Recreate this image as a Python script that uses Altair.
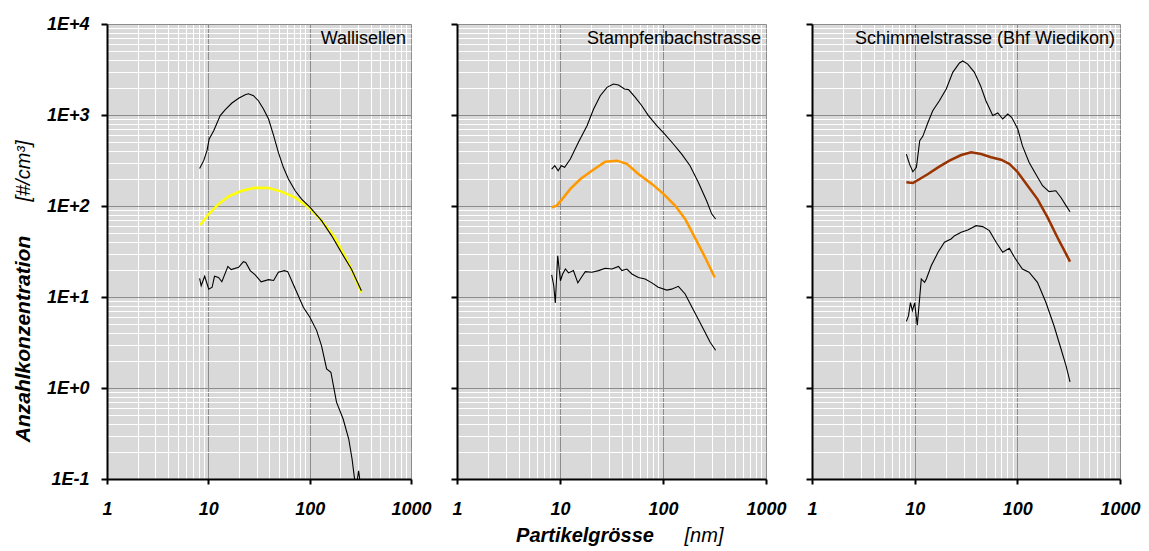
import altair as alt
import pandas as pd

FONT = "Liberation Sans"

# ---------------- data ----------------
titles = ["Wallisellen", "Stampfenbachstrasse", "Schimmelstrasse (Bhf Wiedikon)"]
mid_colors = ["#FFFF00", "#FF9900", "#993300"]

p1_up_x = [8.2, 9.0, 9.7, 10.2, 11.3, 13.1, 14.7, 17.1, 19.9, 23.1, 24.9, 27.9, 31.2, 35.0, 39.3, 44.1, 49.1, 55.0, 61.7, 71.9, 83.2, 100.5, 131, 165, 205, 258, 324]
p1_up_y = [259, 315, 405, 545, 673, 985, 1143, 1355, 1525, 1670, 1713, 1630, 1435, 1164, 904, 593, 389, 266, 198, 147, 119, 97, 69, 47, 31, 20.3, 11.7]
p1_mid_x = [8.3, 10.1, 12.6, 15.9, 21.4, 29.0, 39.3, 52.7, 71.9, 97, 131, 177, 240, 324]
p1_mid_y = [61.8, 81.7, 105, 128, 147, 159, 158, 144, 124, 97, 69, 45, 24, 11.2]
p1_lo_x = [8.2, 8.5, 9.2, 10.1, 10.9, 11.5, 12.6, 13.6, 15.6, 16.8, 19.9, 22.2, 23.4, 25.9, 29, 33.2, 39.3, 44.1, 49.1, 56.3, 60.7, 66.5, 74.6, 86.6, 100.5, 117, 131, 147, 162, 184, 214, 243, 262, 279, 290, 304, 318]
p1_lo_y = [16.0, 13.3, 16.9, 12.2, 12.8, 16.9, 16.4, 14.7, 21.7, 20, 21.2, 24.4, 24, 19.5, 17.5, 14.7, 15.5, 15.2, 18.7, 19.5, 19.0, 15.1, 11.3, 7.7, 6.0, 4.3, 2.9, 1.62, 1.49, 0.70, 0.456, 0.275, 0.166, 0.095, 0.085, 0.123, 0.085]

p2_up_x = [8.3, 8.9, 9.6, 10.3, 11.1, 12.6, 15.1, 18.3, 21.2, 24.6, 28.6, 33.0, 37.0, 42.3, 46.3, 53.8, 62.3, 72.2, 87, 104, 126, 152, 183, 220, 265, 297, 324]
p2_up_y = [255, 277, 244, 277, 266, 328, 501, 763, 1164, 1630, 2013, 2190, 2140, 1930, 1900, 1563, 1265, 985, 763, 618, 480, 372, 277, 182, 114, 82, 72]
p2_mid_x = [8.3, 9.3, 10.5, 12.6, 15.8, 20.4, 27.5, 35.7, 44.6, 57.7, 78.0, 101, 131, 164, 204, 256, 318]
p2_mid_y = [96.6, 101, 119, 154, 198, 244, 307, 315, 290, 225, 175, 136, 101, 72, 45, 27.3, 16.4]
p2_lo_x = [8.3, 8.7, 9.0, 9.5, 10.1, 10.6, 11.3, 12.1, 13.5, 14.9, 16.4, 17.6, 20.4, 23.7, 27.5, 31.9, 37.0, 39.9, 44.6, 49.9, 57.7, 67.1, 78, 90, 109, 121, 141, 164, 189, 220, 256, 286, 324]
p2_lo_y = [17.5, 13.3, 8.6, 28.4, 15.1, 17.9, 20.3, 18.4, 19.5, 14.3, 16.9, 19, 18.7, 19.5, 20.7, 20.3, 21.7, 19.5, 20.3, 17.9, 16.4, 15.8, 14.3, 12.8, 11.9, 12.2, 13.1, 10.8, 7.9, 5.7, 4.1, 3.2, 2.6]

p3_up_x = [8.3, 8.9, 9.6, 10.4, 11.2, 12.0, 13.5, 15.0, 17.4, 20.3, 23.5, 27.3, 29.4, 32.9, 38.2, 43.8, 49.4, 57.6, 64.5, 72.1, 80.7, 88, 101, 112, 130, 151, 176, 204, 237, 266, 298, 326]
p3_up_y = [372, 290, 238, 266, 522, 583, 832, 1114, 1435, 1930, 2944, 3725, 3920, 3630, 2944, 2100, 1435, 985, 1052, 904, 1025, 945, 702, 460, 302, 225, 167, 144, 147, 124, 101, 86.4]
p3_mid_x = [8.3, 9.6, 11.2, 13.5, 16.9, 21.8, 28.4, 35.5, 44.4, 55.4, 69.4, 83.8, 101, 126, 157, 197, 246, 287, 326]
p3_mid_y = [182, 179, 198, 225, 266, 315, 363, 389, 372, 343, 323, 290, 235, 167, 119, 75, 45, 32.3, 24.5]
p3_lo_x = [8.3, 8.7, 9.1, 9.5, 10.0, 10.6, 11.2, 11.6, 12.5, 13.0, 14.5, 16.9, 19.5, 22.6, 24.5, 28.4, 32.9, 39.6, 46, 53.4, 62.2, 72, 83.6, 93.7, 112, 130, 157, 190, 228, 266, 298, 326]
p3_lo_y = [5.4, 6.2, 8.7, 7.1, 8.6, 4.9, 9.9, 15.8, 14.5, 15.8, 22, 31, 40, 43.4, 47.2, 51.4, 54.5, 60.8, 59.4, 53.6, 40, 31, 34.3, 27.3, 20.3, 18.7, 14.5, 8.7, 4.8, 2.7, 1.76, 1.17]

x_ticks = [m * 10 ** e for e in range(0, 3) for m in range(1, 10)] + [1000]
y_ticks = [round(m * 10.0 ** e, 6) for e in range(-1, 4) for m in range(1, 10)] + [10000]

panels = [
    (p1_up_x, p1_up_y, p1_mid_x, p1_mid_y, p1_lo_x, p1_lo_y),
    (p2_up_x, p2_up_y, p2_mid_x, p2_mid_y, p2_lo_x, p2_lo_y),
    (p3_up_x, p3_up_y, p3_mid_x, p3_mid_y, p3_lo_x, p3_lo_y),
]
widths = [304, 309, 308]
HEIGHT = 455

IS_MAJ = "abs(log(datum.value)/LN10 - round(log(datum.value)/LN10)) < 0.001"
grid_color = {"condition": {"test": IS_MAJ, "value": "#8C8C8C"}, "value": "#FFFFFF"}
tick_op = {"condition": {"test": IS_MAJ, "value": 1}, "value": 0}


def make_panel(i):
    ux, uy, mx, my, lx, ly = panels[i]
    w = widths[i]
    rows = []
    for s, xs, ys in (("up", ux, uy), ("lo", lx, ly)):
        rows += [{"series": s, "x": a, "y": b} for a, b in zip(xs, ys)]
    blk = pd.DataFrame(rows)
    mid = pd.DataFrame({"x": mx, "y": my})

    xenc = alt.X(
        "x:Q",
        scale=alt.Scale(type="log", domain=[1, 1000], nice=False),
        axis=alt.Axis(
            values=x_ticks, grid=True, gridColor=grid_color, gridWidth=1,
            labelExpr=f"{IS_MAJ} ? format(datum.value, 'd') : ''",
            labelOverlap=False, labelFlush=False,
            labelFont=FONT, labelFontSize=18, labelFontWeight="bold", labelFontStyle="italic",
            labelColor="black", labelPadding=16,
            tickOpacity=tick_op, tickColor="black", tickWidth=2, tickSize=5,
            domainColor="black", domainWidth=2, title=None,
        ),
    )
    yaxis_kw = dict(
        values=y_ticks, grid=True, gridColor=grid_color, gridWidth=1,
        tickOpacity=tick_op, tickColor="black", tickWidth=2, tickSize=6,
        domainColor="black", domainWidth=2, title=None, labelOverlap=False,
    )
    if i == 0:
        yaxis_kw.update(
            labelExpr=f"{IS_MAJ} ? ('1E' + (datum.value >= 1 ? '+' : '') + round(log(datum.value)/LN10)) : ''",
            labelFont=FONT, labelFontSize=18, labelFontWeight="bold", labelFontStyle="italic",
            labelColor="black", labelPadding=12, labelFlush=False,
        )
    else:
        yaxis_kw.update(labels=False)
    yenc = alt.Y("y:Q", scale=alt.Scale(type="log", domain=[0.1, 10000], nice=False),
                 axis=alt.Axis(**yaxis_kw))

    mid_line = alt.Chart(mid).mark_line(color=mid_colors[i], strokeWidth=2.5, clip=True).encode(x=xenc, y=yenc)
    blk_line = alt.Chart(blk).mark_line(color="black", strokeWidth=1.1, clip=True).encode(
        x=xenc, y=yenc, detail="series:N")
    title = alt.Chart(pd.DataFrame({"t": [titles[i]]})).mark_text(
        align="right", baseline="alphabetic", font=FONT, fontSize=18, color="black"
    ).encode(x=alt.value(w - 5), y=alt.value(20), text="t:N")
    layers = [mid_line, blk_line, title]

    if i == 0:
        ty1 = alt.Chart(pd.DataFrame({"t": ["Anzahlkonzentration"]})).mark_text(
            angle=270, align="center", baseline="middle", font=FONT, fontSize=21,
            fontWeight="bold", fontStyle="italic", color="black"
        ).encode(x=alt.value(-83), y=alt.value(315), text="t:N")
        ty2 = alt.Chart(pd.DataFrame({"t": ["[#/cm³]"]})).mark_text(
            angle=270, align="center", baseline="middle", font=FONT, fontSize=20,
            fontStyle="italic", color="black"
        ).encode(x=alt.value(-83), y=alt.value(147), text="t:N")
        layers += [ty1, ty2]
    if i == 1:
        tx1 = alt.Chart(pd.DataFrame({"t": ["Partikelgrösse"]})).mark_text(
            align="center", baseline="middle", font=FONT, fontSize=20,
            fontWeight="bold", fontStyle="italic", color="black"
        ).encode(x=alt.value(128), y=alt.value(512), text="t:N")
        tx2 = alt.Chart(pd.DataFrame({"t": ["[nm]"]})).mark_text(
            align="center", baseline="middle", font=FONT, fontSize=20,
            fontStyle="italic", color="black"
        ).encode(x=alt.value(247), y=alt.value(512), text="t:N")
        layers += [tx1, tx2]

    return alt.layer(*layers).properties(width=w, height=HEIGHT)


chart = alt.hconcat(
    make_panel(0), make_panel(1), make_panel(2), spacing=46, bounds="flush"
).configure_view(fill="#D9D9D9", stroke="transparent").properties(
    padding={"left": 4, "top": 6, "right": 0, "bottom": 2}, background="white"
)

chart.save("out.html", embed_options={"renderer": "svg", "actions": False})
